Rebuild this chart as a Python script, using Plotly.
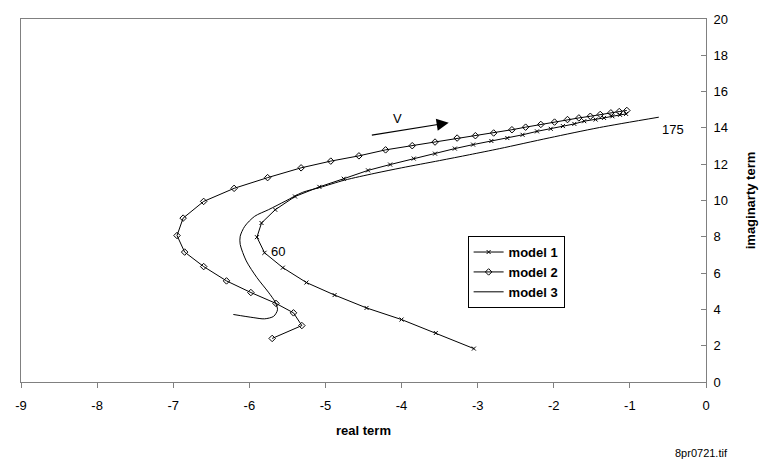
import plotly.graph_objects as go

# ---- data ----
m1_x = [-3.05, -3.55, -4.00, -4.46, -4.88, -5.25, -5.56, -5.80, -5.90, -5.84, -5.66, -5.40,
        -5.08, -4.76, -4.44, -4.15, -3.84, -3.56, -3.30, -3.06, -2.82, -2.61, -2.41, -2.22,
        -2.04, -1.88, -1.73, -1.60, -1.45, -1.34, -1.23, -1.13, -1.05]
m1_y = [1.84, 2.70, 3.44, 4.08, 4.79, 5.48, 6.30, 7.12, 7.98, 8.76, 9.49, 10.22,
        10.75, 11.20, 11.66, 11.98, 12.31, 12.58, 12.86, 13.08, 13.28, 13.44, 13.62, 13.81,
        13.95, 14.10, 14.22, 14.37, 14.46, 14.55, 14.64, 14.72, 14.77]

m2_x = [-5.70, -5.31, -5.42, -5.65, -5.98, -6.30, -6.60, -6.85, -6.95, -6.87, -6.60, -6.20,
        -5.76, -5.32, -4.93, -4.56, -4.21, -3.86, -3.56, -3.27, -3.03, -2.79, -2.55, -2.37,
        -2.17, -1.99, -1.82, -1.67, -1.52, -1.39, -1.25, -1.14, -1.04]
m2_y = [2.40, 3.11, 3.81, 4.33, 4.93, 5.57, 6.36, 7.16, 8.07, 9.03, 9.95, 10.67,
        11.26, 11.80, 12.17, 12.46, 12.79, 13.02, 13.22, 13.44, 13.57, 13.72, 13.90, 14.04,
        14.19, 14.32, 14.46, 14.55, 14.64, 14.74, 14.83, 14.90, 14.96]

m3_x = [-6.21, -5.95, -5.80, -5.68, -5.63, -5.66, -5.75, -5.90, -6.04, -6.12, -6.12, -6.06,
        -5.93, -5.75, -5.52, -5.30, -5.07, -4.75, -4.35, -4.00, -3.50, -3.11, -2.71, -2.06,
        -1.40, -0.62]
m3_y = [3.72, 3.55, 3.48, 3.62, 3.98, 4.40, 4.95, 5.75, 6.67, 7.58, 8.03, 8.58,
        9.13, 9.49, 9.98, 10.45, 10.72, 11.12, 11.50, 11.80, 12.20, 12.52, 12.86, 13.45,
        14.02, 14.59]

series_names = ["model 1", "model 2", "model 3"]
x_ticks = [-9, -8, -7, -6, -5, -4, -3, -2, -1, 0]
y_ticks = [0, 2, 4, 6, 8, 10, 12, 14, 16, 18, 20]

FONT = "Liberation Sans, Arial, sans-serif"
AXC = "#808080"

fig = go.Figure()
fig.add_trace(go.Scatter(x=m1_x, y=m1_y, mode="lines+markers", name="<b>" + series_names[0] + "</b>",
                         line=dict(color="black", width=1),
                         marker=dict(symbol="x-thin", size=4, color="black",
                                     line=dict(color="black", width=1))))
fig.add_trace(go.Scatter(x=m2_x, y=m2_y, mode="lines+markers", name="<b>" + series_names[1] + "</b>",
                         line=dict(color="black", width=1),
                         marker=dict(symbol="diamond-open", size=5, color="black",
                                     line=dict(color="black", width=1))))
fig.add_trace(go.Scatter(x=m3_x, y=m3_y, mode="lines", name="<b>" + series_names[2] + "</b>",
                         line=dict(color="black", width=1, shape="spline", smoothing=0.8)))

fig.add_annotation(x=-3.38, y=14.28, ax=-4.41, ay=13.59, xref="x", yref="y", axref="x", ayref="y",
                   text="", showarrow=True, arrowhead=2, arrowsize=2.2, arrowwidth=1.1,
                   arrowcolor="black")
fig.add_annotation(x=-4.05, y=14.54, text="V", showarrow=False,
                   font=dict(family=FONT, size=13, color="black"))
fig.add_annotation(x=-5.62, y=7.21, text="60", showarrow=False,
                   font=dict(family=FONT, size=13, color="black"))
fig.add_annotation(x=-0.43, y=13.93, text="175", showarrow=False,
                   font=dict(family=FONT, size=13, color="black"))
fig.add_annotation(x=1.035, y=-0.195, xref="paper", yref="paper", yanchor="middle",
                   text="8pr0721.tif", showarrow=False,
                   font=dict(family=FONT, size=11, color="black"))

fig.update_layout(
    width=771, height=470,
    margin=dict(l=21, r=65, t=16, b=88),
    paper_bgcolor="white", plot_bgcolor="white",
    font=dict(family=FONT, size=12, color="black"),
    showlegend=True,
    legend=dict(x=0.652, y=0.402, xanchor="left", yanchor="top",
                bordercolor="black", borderwidth=1, bgcolor="white",
                font=dict(family=FONT, size=13, color="black"),
                itemwidth=30, tracegroupgap=0),
    xaxis=dict(range=[-9, 0], tickvals=x_ticks, ticktext=[str(v) for v in x_ticks],
               showgrid=False, zeroline=False, showline=True, linecolor=AXC, linewidth=1,
               mirror=True, ticks="outside", ticklen=5, tickcolor=AXC,
               ticklabelstandoff=6,
               title=dict(text="<b>real term</b>", font=dict(family=FONT, size=13), standoff=14),
               tickfont=dict(family=FONT, size=13)),
    yaxis=dict(range=[0, 20], tickvals=y_ticks, ticktext=[str(v) for v in y_ticks],
               side="right", showgrid=False, zeroline=False, showline=True, linecolor=AXC,
               linewidth=1, mirror=True, ticks="inside", ticklen=5, tickcolor=AXC,
               ticklabelstandoff=4,
               title=dict(text="<b>imaginarty term</b>", font=dict(family=FONT, size=13), standoff=18),
               tickfont=dict(family=FONT, size=13)),
)

fig.write_html("out.html")
